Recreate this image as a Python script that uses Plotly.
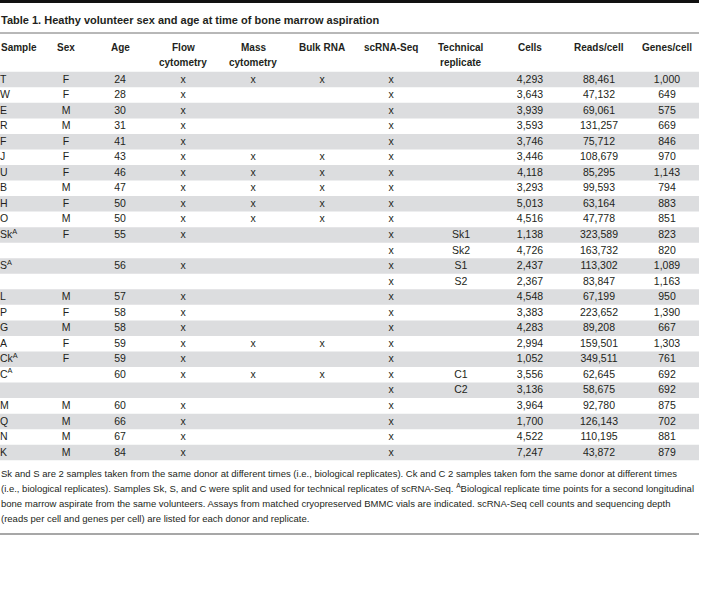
import plotly.graph_objects as go

# ---------------- data ----------------
title_text = "Table 1. Heathy volunteer sex and age at time of bone marrow aspiration"
headers = [["Sample"], ["Sex"], ["Age"], ["Flow", "cytometry"], ["Mass", "cytometry"], ["Bulk RNA"],
           ["scRNA-Seq"], ["Technical", "replicate"], ["Cells"], ["Reads/cell"], ["Genes/cell"]]

samples = ["T", "W", "E", "R", "F", "J", "U", "B", "H", "O", "Sk<sup>A</sup>", "", "S<sup>A</sup>", "",
           "L", "P", "G", "A", "Ck<sup>A</sup>", "C<sup>A</sup>", "", "M", "Q", "N", "K"]
sex = ["F", "F", "M", "M", "F", "F", "F", "M", "F", "M", "F", "", "", "",
       "M", "F", "M", "F", "F", "", "", "M", "M", "M", "M"]
age = [24, 28, 30, 31, 41, 43, 46, 47, 50, 50, 55, None, 56, None,
       57, 58, 58, 59, 59, 60, None, 60, 66, 67, 84]
flow = ["x", "x", "x", "x", "x", "x", "x", "x", "x", "x", "x", "", "x", "",
        "x", "x", "x", "x", "x", "x", "", "x", "x", "x", "x"]
mass = ["x", "", "", "", "", "x", "x", "x", "x", "x", "", "", "", "",
        "", "", "", "x", "", "x", "", "", "", "", ""]
bulk = ["x", "", "", "", "", "x", "x", "x", "x", "x", "", "", "", "",
        "", "", "", "x", "", "x", "", "", "", "", ""]
scrna = ["x"] * 25
tech = ["", "", "", "", "", "", "", "", "", "", "Sk1", "Sk2", "S1", "S2",
        "", "", "", "", "", "C1", "C2", "", "", "", ""]
cells = [4293, 3643, 3939, 3593, 3746, 3446, 4118, 3293, 5013, 4516, 1138, 4726, 2437, 2367,
         4548, 3383, 4283, 2994, 1052, 3556, 3136, 3964, 1700, 4522, 7247]
reads = [88461, 47132, 69061, 131257, 75712, 108679, 85295, 99593, 63164, 47778, 323589, 163732,
         113302, 83847, 67199, 223652, 89208, 159501, 349511, 62645, 58675, 92780, 126143, 110195, 43872]
genes = [1000, 649, 575, 669, 846, 970, 1143, 794, 883, 851, 823, 820, 1089, 1163,
         950, 1390, 667, 1303, 761, 692, 692, 875, 702, 881, 879]

footnote_lines = [
    "Sk and S are 2 samples taken from the same donor at different times (i.e., biological replicates). Ck and C 2 samples taken fom the same donor at different times",
    "(i.e., biological replicates). Samples Sk, S, and C were split and used for technical replicates of scRNA-Seq. <sup>A</sup>Biological replicate time points for a second longitudinal",
    "bone marrow aspirate from the same volunteers. Assays from matched cryopreserved BMMC vials are indicated. scRNA-Seq cell counts and sequencing depth",
    "(reads per cell and genes per cell) are listed for each donor and replicate.",
]

# ---------------- layout constants ----------------
W, H = 703, 591
ROW0 = 80.0      # pixel y of first data row centre
ROWH = 15.54     # row pitch in pixels
RIGHT = 699
TXT = "#231f20"
BAND = "#dcdddf"
FONT = "Liberation Sans, Arial, sans-serif"

col_x = [0, 66, 120, 183, 253, 322, 391, 461, 530, 599, 667]

n = len(samples)


def fmt(v):
    return "" if v is None else f"{v:,}"


columns = [
    samples, sex, [fmt(a) for a in age], flow, mass, bulk, scrna, tech,
    [fmt(c) for c in cells], [fmt(r) for r in reads], [fmt(g) for g in genes]
]

fig = go.Figure()

for ci, col in enumerate(columns):
    idx = [i for i, t in enumerate(col) if t]
    fig.add_trace(go.Scatter(
        x=[col_x[ci]] * len(idx), y=idx, mode="text", text=[col[i] for i in idx],
        textposition="middle right" if ci == 0 else "middle center",
        textfont=dict(family=FONT, size=10.5, color=TXT),
        hoverinfo="skip", showlegend=False, cliponaxis=False,
    ))

shapes = []
for i in range(n):
    if i % 2 == 0:
        shapes.append(dict(type="rect", xref="x", yref="y", x0=0, x1=RIGHT,
                           y0=i - 0.53, y1=i + 0.47, fillcolor=BAND,
                           line=dict(width=0), layer="below"))


def py(px):
    return 1 - px / H


shapes.append(dict(type="rect", xref="x", yref="paper", x0=0, x1=RIGHT,
                   y0=py(3), y1=py(0), fillcolor="#111111", line=dict(width=0)))
shapes.append(dict(type="line", xref="x", yref="paper", x0=0, x1=RIGHT,
                   y0=py(33), y1=py(33), line=dict(color="#707070", width=1)))
shapes.append(dict(type="line", xref="x", yref="paper", x0=0, x1=RIGHT,
                   y0=py(534), y1=py(534), line=dict(color="#8a8a8a", width=1.5)))

annotations = [dict(text="<b>" + title_text + "</b>", x=0, y=py(20), xref="x", yref="paper",
                    xanchor="left", yanchor="middle", showarrow=False, borderpad=0,
                    font=dict(family=FONT, size=11, color=TXT))]

for ci, hl in enumerate(headers):
    for li, h in enumerate(hl):
        annotations.append(dict(text="<b>" + h + "</b>", x=col_x[ci],
                                y=py(47.5 + 14.5 * li), xref="x", yref="paper",
                                xanchor="left" if ci == 0 else "center", yanchor="middle",
                                showarrow=False, borderpad=0,
                                font=dict(family=FONT, size=10, color=TXT)))

for li, line in enumerate(footnote_lines):
    annotations.append(dict(text=line, x=0, y=py(473 + 15 * li), xref="x", yref="paper",
                            xanchor="left", yanchor="middle", showarrow=False, borderpad=0,
                            font=dict(family=FONT, size=9.5, color=TXT)))

fig.update_layout(
    width=W, height=H, margin=dict(l=0, r=0, t=0, b=0),
    paper_bgcolor="white", plot_bgcolor="white",
    xaxis=dict(range=[0, W], visible=False, fixedrange=True),
    yaxis=dict(range=[(H - ROW0) / ROWH, -ROW0 / ROWH], visible=False, fixedrange=True),
    shapes=shapes, annotations=annotations,
)

fig.write_html("out.html", config={"displayModeBar": False},
               post_script="document.body.style.margin='0px';")
